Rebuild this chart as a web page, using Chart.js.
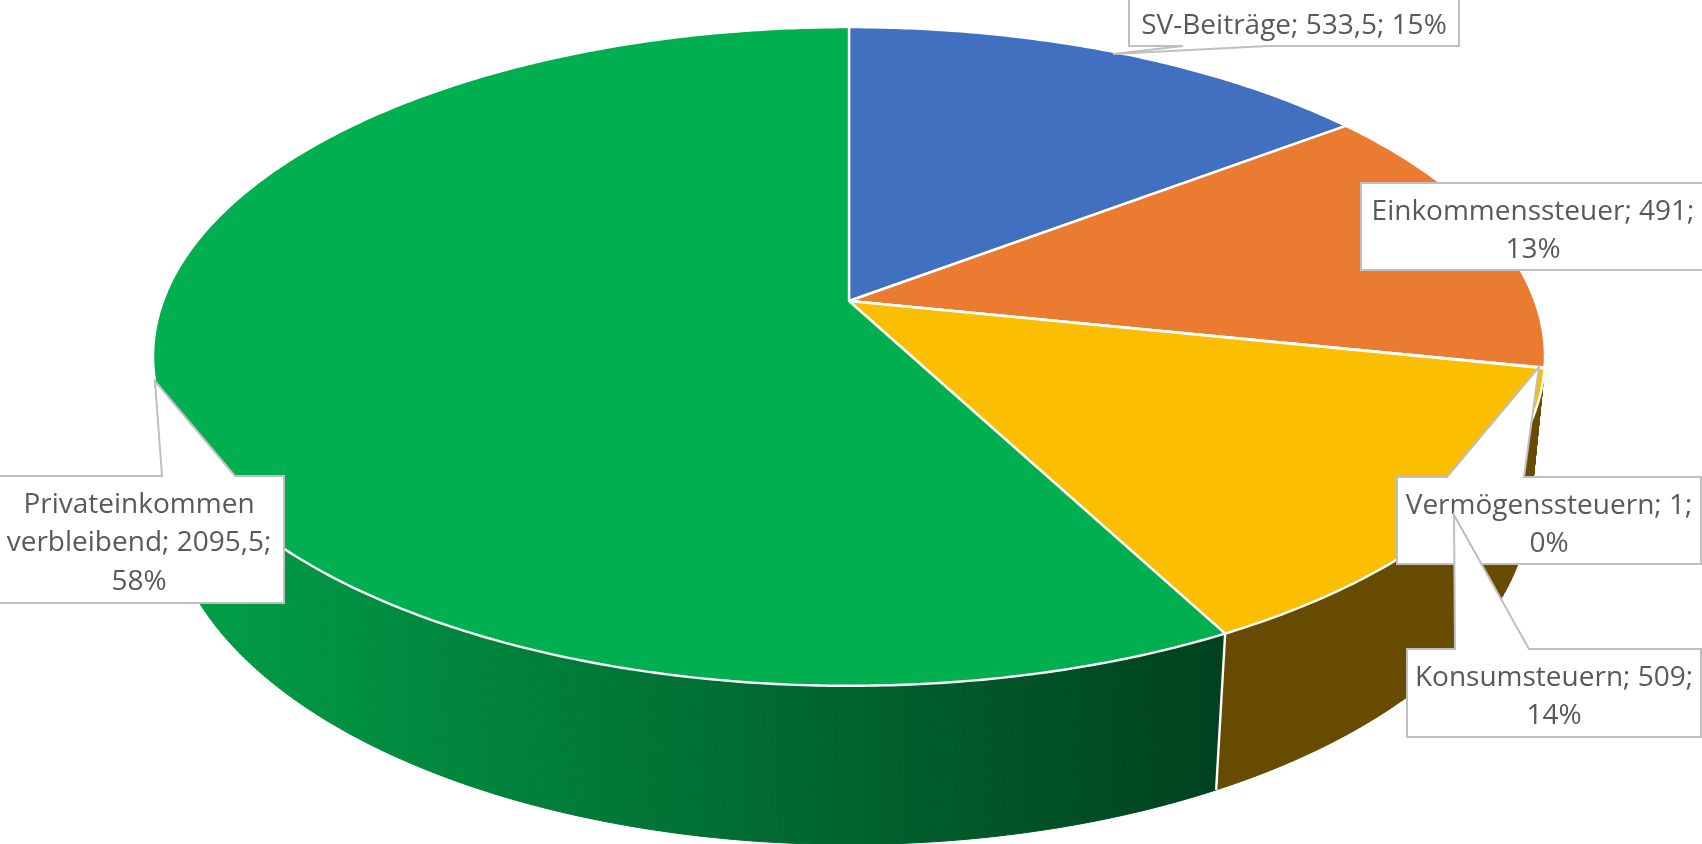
<!DOCTYPE html>
<html lang="de">

<head>
  <meta charset="UTF-8">
  <title>Einkommen</title>
  <script src="https://cdn.jsdelivr.net/npm/chart.js"></script>
  <style>
    html,
    body {
      margin: 0;
      background: #fff;
      overflow: hidden;
    }

    canvas {
      display: block;
    }
  </style>
</head>

<body>
  <canvas id="pieChart" width="1702" height="844"></canvas>

  <script>
    const categories = ['SV-Beiträge', 'Einkommenssteuer', 'Vermögenssteuern', 'Konsumsteuern', 'Privateinkommen verbleibend'];
    const values = [533.5, 491, 1, 509, 2095.5];
    const percents = [15, 13, 0, 14, 58];

    const topColors = ['#4270C0', '#EB7B31', '#FBBE00', '#FBBE00', '#00AF50'];
    const sideColors = [null, null, '#664B00', '#664B00', 'gradient'];

    // perspective of the disc, relative to the pie radius
    const stretchX = 686 / 301;
    const stretchY = 320 / 301;
    const tilt = -0.1684;
    const thickness = 0.0209;
    const vanishY = 7158;

    // boxes are [x, y, w, h], pointers run base, tip, base from left to right,
    // words says how many words go on each text line
    const callouts = [
      { slice: 4, box: [-6, 476, 290, 127], pointer: [[162, 476], [155, 381], [235, 476]], words: [1, 2, 1] },
      { slice: 0, box: [1129, -3, 330, 49], pointer: [[1183, 46], [1113, 54], [1267, 46]], words: [3] },
      { slice: 1, box: [1361, 183, 344, 87], pointer: null, words: [2, 1] },
      { slice: 2, box: [1397, 477, 304, 87], pointer: [[1447, 477], [1539, 367], [1524, 477]], words: [2, 1] },
      { slice: 3, box: [1407, 649, 294, 88], pointer: [[1455, 649], [1454, 515], [1529, 649]], words: [2, 1] }
    ];

    // top face point for an arc angle
    function topPoint(arc, angle) {
      const w = 1 + tilt * Math.sin(angle);
      return {
        x: arc.x + stretchX * arc.outerRadius * Math.cos(angle) / w,
        y: arc.y + stretchY * arc.outerRadius * Math.sin(angle) / w,
        w: w
      };
    }

    // same point on the underside, pulled towards the vanishing point
    function bottomPoint(arc, angle) {
      const p = topPoint(arc, angle);
      return {
        x: (p.w * p.x + thickness * arc.x) / (p.w + thickness),
        y: (p.w * p.y + thickness * vanishY) / (p.w + thickness)
      };
    }

    function drawSides(ctx, arcs) {
      const green = ctx.createLinearGradient(190, 0, 1216, 0);
      green.addColorStop(0, 'rgb(0, 158, 72)');
      green.addColorStop(1, 'rgb(0, 66, 31)');

      arcs.forEach((arc, i) => {
        if (!sideColors[i]) return;
        const paint = sideColors[i] === 'gradient' ? green : sideColors[i];
        ctx.fillStyle = paint;
        ctx.strokeStyle = paint;
        ctx.lineWidth = 1;
        const step = Math.PI / 360;
        for (let a = arc.startAngle; a < arc.endAngle; a += step) {
          const next = Math.min(a + step, arc.endAngle);
          const p1 = topPoint(arc, a), p2 = topPoint(arc, next);
          const q1 = bottomPoint(arc, a), q2 = bottomPoint(arc, next);
          ctx.beginPath();
          ctx.moveTo(p1.x, p1.y);
          ctx.lineTo(p2.x, p2.y);
          ctx.lineTo(q2.x, q2.y);
          ctx.lineTo(q1.x, q1.y);
          ctx.closePath();
          ctx.fill();
          ctx.stroke();
        }
      });

      // seam between the two visible side walls
      const seamArc = arcs[4];
      const from = topPoint(seamArc, seamArc.startAngle);
      const to = bottomPoint(seamArc, seamArc.startAngle);
      ctx.strokeStyle = '#fff';
      ctx.lineWidth = 2.4;
      ctx.beginPath();
      ctx.moveTo(from.x, from.y);
      ctx.lineTo(to.x, to.y);
      ctx.stroke();
    }

    function drawTops(ctx, arcs) {
      arcs.forEach((arc, i) => {
        ctx.beginPath();
        ctx.moveTo(arc.x, arc.y);
        const steps = Math.max(2, Math.ceil((arc.endAngle - arc.startAngle) / (Math.PI / 360)));
        for (let s = 0; s <= steps; s++) {
          const p = topPoint(arc, arc.startAngle + (arc.endAngle - arc.startAngle) * s / steps);
          ctx.lineTo(p.x, p.y);
        }
        ctx.closePath();
        ctx.fillStyle = topColors[i];
        ctx.fill();
        ctx.strokeStyle = '#fff';
        ctx.lineWidth = 2.4;
        ctx.lineJoin = 'round';
        ctx.stroke();
      });
    }

    function splitLines(text, words) {
      const parts = text.split(' ');
      return words.map(count => parts.splice(0, count).join(' '));
    }

    function drawCallout(ctx, c) {
      const [x, y, w, h] = c.box;
      const onBottom = c.pointer && c.pointer[0][1] > y + h / 2;

      ctx.beginPath();
      ctx.moveTo(x, y);
      if (c.pointer && !onBottom) c.pointer.forEach(p => ctx.lineTo(p[0], p[1]));
      ctx.lineTo(x + w, y);
      ctx.lineTo(x + w, y + h);
      if (onBottom) c.pointer.slice().reverse().forEach(p => ctx.lineTo(p[0], p[1]));
      ctx.lineTo(x, y + h);
      ctx.closePath();
      ctx.fillStyle = '#fff';
      ctx.fill();
      ctx.strokeStyle = '#BFBFBF';
      ctx.lineWidth = 2;
      ctx.lineJoin = 'miter';
      ctx.stroke();

      const value = String(values[c.slice]).replace('.', ',');
      const text = `${categories[c.slice]}; ${value}; ${percents[c.slice]}%`;
      ctx.font = '28px "Open Sans"';
      ctx.fillStyle = '#595959';
      ctx.textAlign = 'center';
      ctx.textBaseline = 'alphabetic';
      splitLines(text, c.words).forEach((line, i) => {
        ctx.fillText(line, x + w / 2, y + 36.5 + i * 38.7);
      });
    }

    // the stock arcs are flat, so the disc is painted from their computed angles
    const discPlugin = {
      id: 'disc',
      beforeDatasetsDraw(chart) {
        const ctx = chart.ctx;
        const arcs = chart.getDatasetMeta(0).data;
        ctx.save();
        drawSides(ctx, arcs);
        drawTops(ctx, arcs);
        callouts.forEach(c => drawCallout(ctx, c));
        ctx.restore();
        return false;
      }
    };

    new Chart(document.getElementById('pieChart'), {
      type: 'pie',
      data: {
        labels: categories,
        datasets: [{
          data: values,
          backgroundColor: topColors,
          borderWidth: 0
        }]
      },
      options: {
        responsive: false,
        animation: false,
        layout: { padding: { left: 0, right: 4, top: 0, bottom: 242 } },
        plugins: {
          legend: { display: false },
          tooltip: { enabled: false }
        }
      },
      plugins: [discPlugin]
    });
  </script>
</body>

</html>
